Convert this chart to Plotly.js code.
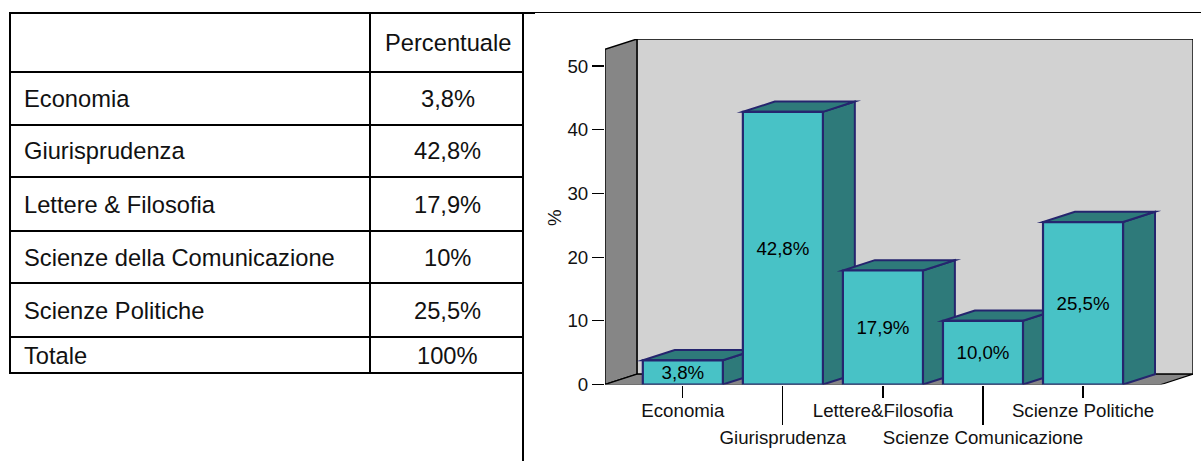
<!DOCTYPE html>
<html><head><meta charset="utf-8">
<script src="https://cdn.plot.ly/plotly-3.0.1.min.js"></script>
<style>html,body{margin:0;padding:0;background:#fff}#c{width:1201px;height:461px}
.scatterlayer .js-line{stroke-linejoin:miter!important;stroke-miterlimit:10!important}
.ytitle{translate:0 6px}</style>
</head><body><div id="c"></div>
<script>
var categories = ['Economia','Giurisprudenza','Lettere&Filosofia','Scienze Comunicazione','Scienze Politiche'];
var values = [3.8,42.8,17.9,10.0,25.5];
var barLabels = ['3,8%','42,8%','17,9%','10,0%','25,5%'];
var tableHeader = 'Percentuale';
var tableNames = ['Economia','Giurisprudenza','Lettere & Filosofia','Scienze della Comunicazione','Scienze Politiche','Totale'];
var tableValues = ['3,8%','42,8%','17,9%','10%','25,5%','100%'];

var W=1201,H=461;
var FONT='"Liberation Sans", Arial, sans-serif';
var LEFT=605,RIGHT=1193,ZERO=384.5,TOP=39;
var xMin=-0.778,xFloorEnd=4.78,depthX=0.319,xMax=xFloorEnd+depthX;
var depthY=1.62,yMax=54.24;
var barHalf=0.4;
var px=function(v){return v/W;}, py=function(v){return 1-v/H;};

function poly(xs,ys,fill,line,lw){
  return {type:'scatter',mode:'lines',x:xs.concat([xs[0],xs[1]]),y:ys.concat([ys[0],ys[1]]),fill:'toself',fillcolor:fill,
    line:{color:line,width:lw},hoverinfo:'skip',showlegend:false,cliponaxis:false,xaxis:'x',yaxis:'y'};
}
var traces=[];
traces.push(poly([xMin+depthX,xFloorEnd+depthX,xFloorEnd+depthX,xMin+depthX],[depthY,depthY,yMax,yMax],'#d2d2d2','#000',1.4));
traces.push(poly([xMin,xMin+depthX,xMin+depthX,xMin],[0,depthY,yMax,yMax-depthY],'#868686','#000',1.4));
traces.push(poly([xMin,xFloorEnd,xFloorEnd+depthX,xMin+depthX],[0,0,depthY,depthY],'#868686','#000',1.2));
var BAR='#25256e',SIDE='#2e7a7a',FRONT='#48c2c6';
values.forEach(function(v,i){
  var l=i-barHalf,r=i+barHalf;
  traces.push(poly([r,r+depthX,r+depthX,r],[0,depthY,v+depthY,v],SIDE,BAR,2));
  traces.push(poly([l,r,r+depthX,l+depthX],[v,v,v+depthY,v+depthY],SIDE,BAR,2));
});
traces.push({type:'bar',x:categories.map(function(c,i){return i;}),y:values,width:barHalf*2,xaxis:'x2',yaxis:'y2',
  marker:{color:FRONT,line:{color:BAR,width:2.2}},text:barLabels,textposition:'inside',insidetextanchor:'middle',textangle:0,
  constraintext:'none',textfont:{family:FONT,size:18.7,color:'#000'},hoverinfo:'x+y',showlegend:false});

var rowLines=[13,72,125,177,231,283,337,373];
var shapes=[], annotations=[];
function seg(x0,y0,x1,y1,w,c){shapes.push({type:'line',xref:'paper',yref:'paper',x0:px(x0),y0:py(y0),x1:px(x1),y1:py(y1),line:{color:c||'#000',width:w||2},layer:'above'});}
seg(523,12.5,W,12.5,1.2,'#000');
rowLines.forEach(function(y,i){seg(9,y,i===0?535:524,y);});
seg(10,13,10,374);seg(370,13,370,374);seg(523,13,523,461);
function txt(x,y,t,anchor){annotations.push({xref:'paper',yref:'paper',x:px(x),y:py(y),text:t,showarrow:false,xanchor:anchor,yanchor:'middle',font:{family:FONT,size:23.7,color:'#111'}});}
txt(447.5,43,tableHeader,'center');
tableNames.forEach(function(n,i){
  var yc=(rowLines[i+1]+rowLines[i+2])/2+0.5;
  txt(22,yc,n,'left');txt(447.5,yc,tableValues[i],'center');
});

var tickFont={family:FONT,size:18.7,color:'#111'};
var layout={width:W,height:H,margin:{l:0,r:0,t:0,b:0},paper_bgcolor:'#fff',plot_bgcolor:'rgba(0,0,0,0)',showlegend:false,
  barmode:'overlay',shapes:shapes,annotations:annotations,font:{family:FONT},
  xaxis:{domain:[px(LEFT),px(RIGHT)],range:[xMin,xMax],showgrid:false,zeroline:false,showline:false,anchor:'y',
    tickmode:'array',tickvals:[0,2,4],ticktext:[categories[0],categories[2],categories[4]],ticks:'outside',ticklen:12,tickwidth:1.2,tickcolor:'#000',tickfont:tickFont,ticklabelstandoff:-3},
  xaxis2:{domain:[px(LEFT),px(RIGHT)],range:[xMin,xMax],overlaying:'x',showgrid:false,zeroline:false,showline:false,anchor:'y2',side:'bottom',
    tickmode:'array',tickvals:[1,3],ticktext:[categories[1],categories[3]],ticks:'outside',ticklen:39,tickwidth:1.2,tickcolor:'#000',tickfont:tickFont,ticklabelstandoff:-3},
  yaxis:{domain:[py(ZERO),py(TOP)],range:[0,yMax],showgrid:false,zeroline:false,showline:false,anchor:'x',
    tickmode:'array',tickvals:[0,10,20,30,40,50],ticks:'outside',ticklen:12,tickwidth:1.2,tickcolor:'#000',tickfont:tickFont,
    title:{text:'%',font:{family:FONT,size:18.7,color:'#111'},standoff:0}},
  yaxis2:{domain:[py(ZERO),py(TOP)],range:[0,yMax],overlaying:'y',showgrid:false,zeroline:false,showline:false,showticklabels:false,ticks:'',anchor:'x2'}
};
Plotly.newPlot('c',traces,layout,{displayModeBar:false,staticPlot:true});
</script></body></html>
